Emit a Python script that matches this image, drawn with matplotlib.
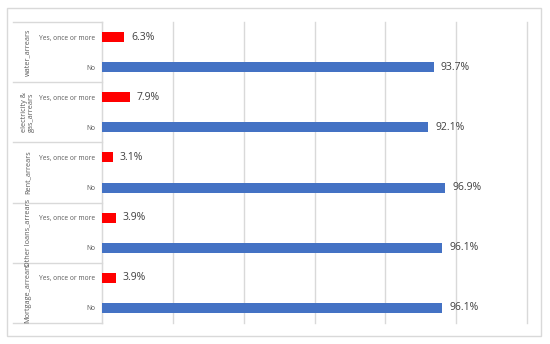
import matplotlib
matplotlib.use("Agg")
import matplotlib.pyplot as plt
from matplotlib.patches import Rectangle
import matplotlib.transforms as mtransforms

matplotlib.rcParams["font.family"] = ["Open Sans", "DejaVu Sans"]

groups = ["water_arrears", "electricity &\ngas_arrears", "Rent_arrears",
          "Other loans_arrears", "Mortgage_arrears"]
answers = ["Yes, once or more", "No"]
yes_pct = [6.3, 7.9, 3.1, 3.9, 3.9]
no_pct = [93.7, 92.1, 96.9, 96.1, 96.1]

W, H = 550, 344
fig = plt.figure(figsize=(W / 100, H / 100), dpi=100)
ax = fig.add_axes([102 / W, 1 - 323 / H, (527 - 102) / W, (323 - 22) / H])

grid_c = "#D9D9D9"
red = "#FF0000"
blue = "#4472C4"

yes_y = [2 * i for i in range(len(groups))]
no_y = [2 * i + 1 for i in range(len(groups))]
ax.barh(yes_y, yes_pct, height=0.33, color=red, zorder=3)
ax.barh(no_y, no_pct, height=0.33, color=blue, zorder=3)

for y, v in zip(yes_y + no_y, yes_pct + no_pct):
    ax.annotate(f"{v}%", (v, y), xytext=(5, 0), textcoords="offset points",
                va="center", ha="left", fontsize=7.5, color="#404040")

ax.set_xlim(0, 120)
ax.set_ylim(len(groups) * 2 - 0.5, -0.5)
ax.set_xticks(range(0, 121, 20))
ax.set_xticklabels([])
ax.tick_params(axis="x", length=0)
ax.grid(axis="x", color=grid_c, linewidth=1, zorder=0)
for gl in ax.get_xgridlines():
    gl.set_clip_on(False)

ax.set_yticks(yes_y + no_y)
ax.set_yticklabels(answers[:1] * len(groups) + answers[1:] * len(groups),
                   fontsize=4.8, color="#595959")
ax.tick_params(axis="y", length=0, pad=5)

for s in ["top", "right", "bottom"]:
    ax.spines[s].set_visible(False)
ax.spines["left"].set_color(grid_c)

# group separators and rotated group labels
trans = mtransforms.blended_transform_factory(ax.transAxes, ax.transData)
x0 = (13 - 102) / (527 - 102)
for i in range(len(groups) + 1):
    yb = 2 * i - 0.5
    ax.plot([x0, 0], [yb, yb], color=grid_c, lw=1, transform=trans, clip_on=False)
for i, g in enumerate(groups):
    ax.text((28 - 102) / (527 - 102), 2 * i + 0.5, g, rotation=90, transform=trans,
            ha="center", va="center", fontsize=5.2, color="#595959",
            multialignment="center", linespacing=1.1)

fig.patches.append(Rectangle((7 / W, 1 - 336 / H), (541 - 7) / W, (336 - 8) / H,
                             transform=fig.transFigure, fill=False,
                             edgecolor=grid_c, lw=1))

fig.savefig("out.png", dpi=100)
